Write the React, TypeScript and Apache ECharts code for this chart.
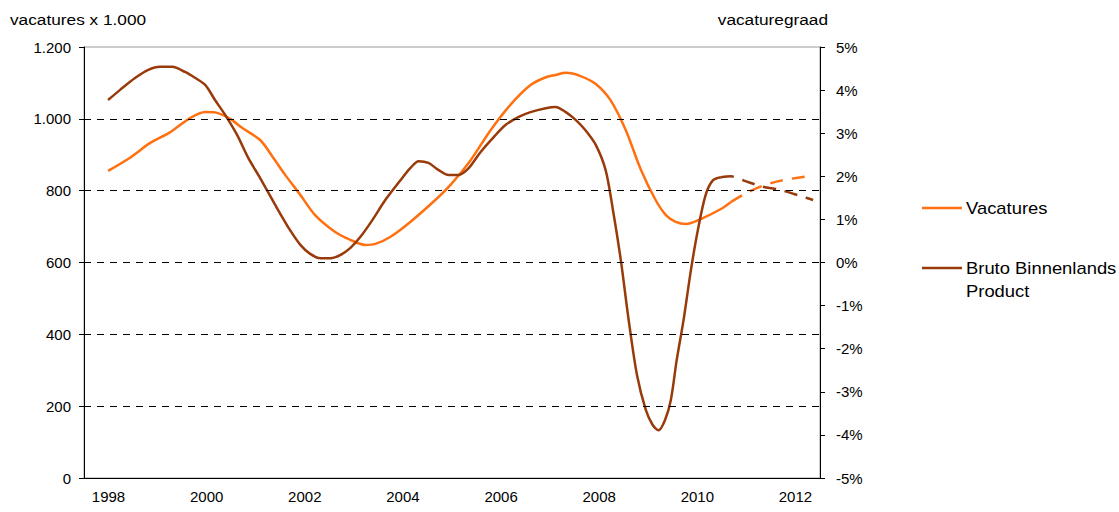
import React, { useEffect, useRef } from "react";
import * as echarts from "echarts";

const yearLabels = ["1998","1999","2000","2001","2002","2003","2004","2005","2006","2007","2008","2009","2010","2011","2012"];
const gridValues = [200, 400, 600, 800, 1000];

// Vacatures (x 1.000), solid part
const vacYears = [1998.49,1998.93,1999.35,1999.76,2000.16,2000.47,2000.67,2000.98,2001.22,2001.59,2001.85,2002.10,2002.41,2002.71,2003.12,2003.43,2003.73,2003.94,2004.24,2004.65,2005.16,2005.47,2005.88,2006.29,2006.69,2007.10,2007.40,2007.61,2007.82,2008.12,2008.43,2008.73,2009.04,2009.35,2009.65,2009.86,2010.06,2010.27,2010.57,2010.98,2011.18];
const vacValues = [855,891,933,963,1002,1019,1018,1000,975,941,893,844,788,732,685,663,649,652,671,713,774,816,885,969,1039,1094,1115,1122,1128,1119,1097,1052,969,858,774,732,713,707,721,749,768];
// Vacatures forecast (dashed)
const vacFcYears = [2011.18,2011.45,2011.80,2012.20,2012.55,2012.86];
const vacFcValues = [768,790,812,828,836,842];

// Bruto Binnenlands Product (% change), solid part
const bbpYears = [1998.49,1998.73,1999.04,1999.31,1999.55,1999.80,2000.06,2000.27,2000.47,2000.67,2000.88,2001.12,2001.35,2001.59,2001.90,2002.20,2002.41,2002.61,2002.82,2003.02,2003.22,2003.43,2003.63,2003.88,2004.14,2004.45,2004.65,2004.82,2005.02,2005.22,2005.43,2005.63,2005.84,2006.08,2006.35,2006.59,2006.86,2007.10,2007.41,2007.61,2007.82,2008.02,2008.22,2008.43,2008.63,2008.78,2008.94,2009.10,2009.27,2009.45,2009.59,2009.71,2009.84,2009.96,2010.08,2010.22,2010.37,2010.51,2010.67,2010.82,2010.98];
const bbpValues = [3.77,4.0,4.28,4.47,4.54,4.54,4.42,4.28,4.12,3.77,3.42,2.96,2.42,1.96,1.33,0.75,0.41,0.2,0.1,0.1,0.17,0.34,0.59,0.99,1.45,1.91,2.19,2.35,2.31,2.15,2.03,2.03,2.19,2.56,2.91,3.19,3.38,3.49,3.58,3.61,3.49,3.31,3.07,2.73,2.15,1.22,0.06,-1.33,-2.61,-3.42,-3.77,-3.89,-3.66,-3.19,-2.26,-1.33,-0.17,0.75,1.57,1.91,1.98];
// BBP forecast (dashed)
const bbpFcYears = [2010.98,2011.18,2011.45,2011.80,2012.20,2012.61,2012.86];
const bbpFcValues = [1.98,2.0,1.9,1.77,1.68,1.54,1.45];

const ORANGE = "#FF7010";
const BROWN = "#993A0A";
const FONT = "Liberation Sans, Arial, sans-serif";
const TICK_FS = 15;
const SX = 1.15;

const pairs = (xs: number[], ys: number[]) => xs.map((x, i) => [x, ys[i]]);

export default function App() {
  const ref = useRef<HTMLDivElement>(null);
  useEffect(() => {
    if (!ref.current) return;
    const chart = echarts.init(ref.current, null, { renderer: "svg" });
    const labelBase = { fontFamily: FONT, fontSize: TICK_FS, color: "#000" };
    chart.setOption({
      animation: false,
      textStyle: { fontFamily: FONT, fontSize: TICK_FS, color: "#000" },
      grid: { left: 84, right: 299, top: 47, bottom: 34, show: true, borderColor: "#9a9a9a", borderWidth: 1 },
      xAxis: [
        {
          type: "category",
          data: yearLabels,
          boundaryGap: true,
          axisLine: { lineStyle: { color: "#000", width: 1 } },
          axisTick: { interval: 0, alignWithLabel: false, length: 5, lineStyle: { color: "#000" } },
          axisLabel: { ...labelBase, interval: 1, margin: 11 },
          splitLine: { show: false },
        },
        { type: "value", min: 1998, max: 2013, show: false },
      ],
      yAxis: [
        {
          type: "value",
          min: 0,
          max: 1200,
          interval: 200,
          axisLine: { show: true, lineStyle: { color: "#000", width: 1 } },
          axisTick: { show: true, length: 5, lineStyle: { color: "#000" } },
          axisLabel: {
            ...labelBase,
            margin: 13,
            formatter: (v: number) => (v >= 1000 ? (v / 1000).toFixed(3) : String(v)),
          },
          splitLine: { show: false },
        },
        {
          type: "value",
          min: -5,
          max: 5,
          interval: 1,
          position: "right",
          axisLine: { show: true, lineStyle: { color: "#000", width: 1 } },
          axisTick: { show: true, length: 5, lineStyle: { color: "#000" } },
          axisLabel: { ...labelBase, margin: 16, formatter: "{value}%" },
          splitLine: { show: false },
        },
      ],
      series: [
        {
          name: "grid",
          type: "line",
          xAxisIndex: 1,
          yAxisIndex: 0,
          data: [],
          silent: true,
          markLine: {
            silent: true,
            symbol: "none",
            label: { show: false },
            lineStyle: { color: "#000", width: 1, type: [7, 6] },
            data: gridValues.map((v) => ({ yAxis: v })),
          },
        },
        {
          name: "Vacatures",
          type: "line",
          xAxisIndex: 1,
          yAxisIndex: 0,
          data: pairs(vacYears, vacValues),
          showSymbol: false,
          smooth: 0.3,
          lineStyle: { color: ORANGE, width: 2.5 },
          z: 3,
        },
        {
          name: "Vacatures raming",
          type: "line",
          xAxisIndex: 1,
          yAxisIndex: 0,
          data: pairs(vacFcYears, vacFcValues),
          showSymbol: false,
          smooth: 0.3,
          lineStyle: { color: ORANGE, width: 2.5, type: [13, 9] },
          z: 3,
        },
        {
          name: "Bruto Binnenlands Product",
          type: "line",
          xAxisIndex: 1,
          yAxisIndex: 1,
          data: pairs(bbpYears, bbpValues),
          showSymbol: false,
          smooth: 0.3,
          lineStyle: { color: BROWN, width: 2.5 },
          z: 4,
        },
        {
          name: "BBP raming",
          type: "line",
          xAxisIndex: 1,
          yAxisIndex: 1,
          data: pairs(bbpFcYears, bbpFcValues),
          showSymbol: false,
          smooth: 0.3,
          lineStyle: { color: BROWN, width: 2.5, type: [13, 9] },
          z: 4,
        },
      ],
      graphic: [
        { type: "text", x: 10, y: 19, scaleX: SX, style: { text: "vacatures x 1.000", font: `15px ${FONT}`, fill: "#000", verticalAlign: "middle" } },
        { type: "text", x: 828, y: 19, scaleX: SX, style: { text: "vacaturegraad", font: `15px ${FONT}`, fill: "#000", align: "right", verticalAlign: "middle" } },
        { type: "line", shape: { x1: 922, y1: 208, x2: 962, y2: 208 }, style: { stroke: ORANGE, lineWidth: 2.5 } },
        { type: "text", x: 966, y: 208, scaleX: SX, style: { text: "Vacatures", font: `16px ${FONT}`, fill: "#000", verticalAlign: "middle" } },
        { type: "line", shape: { x1: 922, y1: 268, x2: 962, y2: 268 }, style: { stroke: BROWN, lineWidth: 2.5 } },
        { type: "text", x: 966, y: 268, scaleX: SX, style: { text: "Bruto Binnenlands", font: `16px ${FONT}`, fill: "#000", verticalAlign: "middle" } },
        { type: "text", x: 966, y: 291, scaleX: SX, style: { text: "Product", font: `16px ${FONT}`, fill: "#000", verticalAlign: "middle" } },
      ],
    });
    return () => chart.dispose();
  }, []);
  return <div ref={ref} style={{ position: "absolute", left: 0, top: 0, width: 1119, height: 512 }} />;
}
